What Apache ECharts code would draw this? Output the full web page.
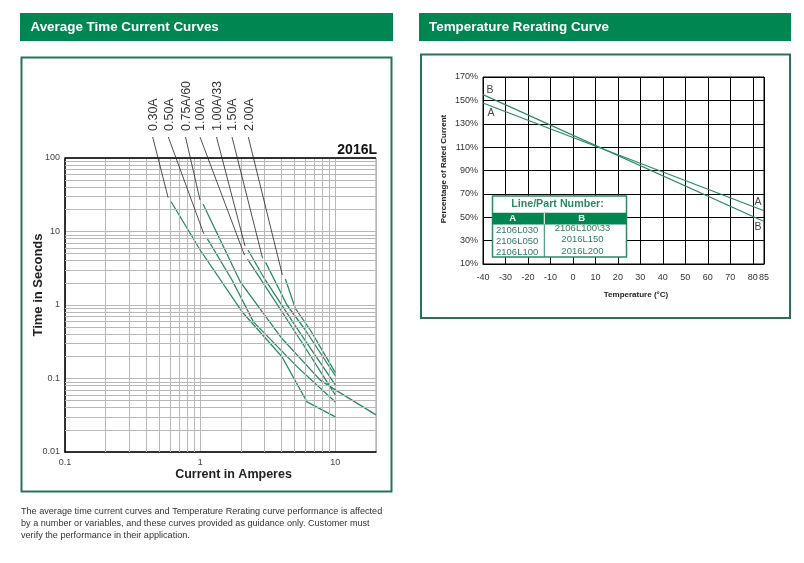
<!DOCTYPE html>
<html>
<head>
<meta charset="utf-8">
<script src="https://cdn.jsdelivr.net/npm/echarts@6/dist/echarts.min.js"></script>
<style>
html, body { margin: 0; padding: 0; background: #fff; }
#main { width: 804px; height: 563px; }
</style>
</head>
<body>
<div id="main"></div>
<script>
// left chart: average time current curves (current A, time s)
var ratingNames = ['0.30A', '0.50A', '0.75A/60', '1.00A', '1.00A/33', '1.50A', '2.00A'];
var curve030 = [[0.61, 25.4], [1.0, 5.6], [2.04, 0.81], [4.03, 0.198], [6.17, 0.048], [10, 0.030]];
var curve050 = [[1.12, 8.2], [1.72, 2.19], [2.48, 0.59], [5.2, 0.145], [10, 0.048]];
var curve075 = [[1.05, 23.7], [1.98, 2.07], [4.03, 0.35], [7.74, 0.095], [10, 0.070], [20, 0.032]];
var curve100 = [[2.24, 4.2], [3.03, 1.81], [5.51, 0.334], [10, 0.060]];
var curve100s33 = [[2.26, 5.6], [3.03, 2.19], [5.51, 0.41], [10, 0.082]];
var curve150 = [[3.05, 3.8], [4.39, 1.0], [6.0, 0.457], [10, 0.109]];
var curve200 = [[4.27, 2.26], [5.06, 0.90], [6.53, 0.457], [10, 0.120]];
var curves = [curve030, curve050, curve075, curve100, curve100s33, curve150, curve200];

// right chart: temperature rerating (deg C, % of rated current)
var lineA = [[-40, 147.8], [85, 55.6]];
var lineB = [[-40, 154.9], [85, 46.4]];
var partA = ['2106L030', '2106L050', '2106L100'];
var partB = ['2106L100\\33', '2016L150', '2016L200'];

var GREEN = '#008751';
var CURVE = '#2b8a63';
var BOX = '#24745a';
var FONT = '"Liberation Sans", Arial, sans-serif';
var NARROW = '"Liberation Sans Narrow", "Liberation Sans", Arial, sans-serif';

// log paper minor lines
var minorX = [], minorY = [];
[0.1, 1].forEach(function (d) {
	for (var k = 2; k <= 9; k++) minorX.push(+(d * k).toFixed(3));
});
[0.01, 0.1, 1, 10].forEach(function (d) {
	for (var k = 2; k <= 9; k++) minorY.push(+(d * k).toFixed(4));
});

function isDecade(v) {
	var l = Math.log(v) / Math.LN10;
	return Math.abs(l - Math.round(l)) < 1e-6;
}
function decadeText(v) {
	var l = Math.round(Math.log(v) / Math.LN10);
	return l >= 0 ? String(Math.pow(10, l)) : '0.' + '0'.repeat(-l - 1) + '1';
}

var chart = echarts.init(document.getElementById('main'));

var series = [];
// grid lines of the log paper
series.push({
	type: 'line', xAxisIndex: 0, yAxisIndex: 0, data: [], silent: true,
	markLine: {
		symbol: ['none', 'none'], silent: true, animation: false,
		label: { show: false },
		lineStyle: { color: '#b8b8b8', width: 1, type: 'solid' },
		data: minorX.map(function (v) { return { xAxis: v }; })
			.concat(minorY.map(function (v) { return { yAxis: v }; }))
	}
});
series.push({
	type: 'line', xAxisIndex: 0, yAxisIndex: 0, data: [], silent: true, z: 4,
	markLine: {
		symbol: ['none', 'none'], silent: true, animation: false,
		label: { show: false },
		lineStyle: { color: '#000', width: 1.5, type: 'solid' },
		data: [{ yAxis: 100 }]
	}
});
curves.forEach(function (c, i) {
	series.push({
		name: ratingNames[i], type: 'line', xAxisIndex: 0, yAxisIndex: 0, z: 3,
		data: c, showSymbol: false, symbol: 'none',
		lineStyle: { color: CURVE, width: 1.3 }
	});
});
series.push({
	name: 'A', type: 'line', xAxisIndex: 1, yAxisIndex: 1, data: lineA,
	symbol: 'none', lineStyle: { color: CURVE, width: 1.2 }
});
series.push({
	name: 'B', type: 'line', xAxisIndex: 1, yAxisIndex: 1, data: lineB,
	symbol: 'none', lineStyle: { color: CURVE, width: 1.2 }
});

chart.setOption({
	animation: false,
	textStyle: { fontFamily: FONT },
	grid: [
		{ left: 65, top: 158, width: 311, height: 294, show: true, borderColor: '#999', borderWidth: 1 },
		{ left: 483, top: 77, width: 281, height: 187, show: true, borderColor: '#000', borderWidth: 1 }
	],
	xAxis: [{
		gridIndex: 0, type: 'log', logBase: 10, min: 0.1, max: 20,
		axisLine: { show: true, lineStyle: { color: '#000', width: 1.5 } },
		axisTick: { show: false },
		splitLine: { show: true, lineStyle: { color: '#b8b8b8' } },
		axisLabel: {
			color: '#444', fontSize: 9, margin: 6,
			formatter: function (v) { return isDecade(v) ? decadeText(v) : ''; }
		}
	}, {
		gridIndex: 1, type: 'value', min: -40, max: 85, interval: 10,
		axisLine: { show: true, lineStyle: { color: '#000', width: 1 } },
		axisTick: { show: false },
		splitLine: { show: true, lineStyle: { color: '#000', width: 1 } },
		axisLabel: { color: '#333', fontSize: 9, margin: 9 }
	}],
	yAxis: [{
		gridIndex: 0, type: 'log', logBase: 10, min: 0.01, max: 100,
		axisLine: { show: true, lineStyle: { color: '#000', width: 1.5 } },
		axisTick: { show: false },
		splitLine: { show: true, lineStyle: { color: '#b8b8b8' } },
		axisLabel: {
			color: '#444', fontSize: 9, margin: 5,
			formatter: function (v) { return decadeText(v); }
		}
	}, {
		gridIndex: 1, type: 'value', min: 10, max: 170, interval: 20,
		axisLine: { show: true, lineStyle: { color: '#000', width: 1 } },
		axisTick: { show: false },
		splitLine: { show: true, lineStyle: { color: '#000', width: 1 } },
		axisLabel: { color: '#333', fontSize: 9, margin: 5, formatter: '{value}%' }
	}],
	series: series
});

// static page parts + annotations placed through the chart scales
var g = [];
function txt(x, y, s, o) {
	var st = {
		text: s, x: 0, y: 0, fill: o.fill || '#333', fontSize: o.size || 9,
		fontWeight: o.bold ? 'bold' : 'normal', fontFamily: o.font || FONT,
		textAlign: o.align || 'left', textVerticalAlign: 'middle'
	};
	g.push({ type: 'text', x: x, y: y, rotation: o.rot || 0, z: o.z || 50, silent: true, style: st });
}

// title bars
g.push({ type: 'rect', shape: { x: 20, y: 13, width: 373, height: 28 }, style: { fill: GREEN }, silent: true });
g.push({ type: 'rect', shape: { x: 419, y: 13, width: 372, height: 28 }, style: { fill: GREEN }, silent: true });
txt(30.5, 27.5, 'Average Time Current Curves', { fill: '#fff', size: 13.4, bold: true });
txt(429, 27.5, 'Temperature Rerating Curve', { fill: '#fff', size: 13.4, bold: true });

// frames
g.push({ type: 'rect', shape: { x: 21.5, y: 57.5, width: 370, height: 434 }, style: { fill: 'none', stroke: BOX, lineWidth: 2 }, silent: true });
g.push({ type: 'rect', shape: { x: 421, y: 54.5, width: 369, height: 263.5 }, style: { fill: 'none', stroke: BOX, lineWidth: 2 }, silent: true });

// footnote
txt(21, 511.5, 'The average time current curves and Temperature Rerating curve performance is affected', { size: 9.1, fill: '#333' });
txt(21, 523.5, 'by a number or variables, and these curves provided as guidance only. Customer must', { size: 9.1, fill: '#333' });
txt(21, 535, 'verify the performance in their application.', { size: 9.1, fill: '#333' });

// left chart texts
txt(377, 150, '2016L', { size: 14, bold: true, fill: '#111', align: 'right' });
txt(38, 285, 'Time in Seconds', { size: 13, bold: true, fill: '#222', align: 'center', rot: Math.PI / 2 });
txt(233.5, 475, 'Current in Amperes', { size: 12.5, bold: true, fill: '#222', align: 'center' });

// rating labels with leader lines to the start of each curve
var labelX = [152.7, 168.3, 185.5, 200, 216.5, 232, 248.3];
curves.forEach(function (c, i) {
	var p = chart.convertToPixel({ gridIndex: 0 }, c[0]);
	txt(labelX[i] + 1, 131, ratingNames[i], { size: 12.5, fill: '#333', rot: Math.PI / 2 });
	g.push({
		type: 'line', silent: true, z: 60,
		shape: { x1: labelX[i], y1: 137, x2: p[0] - 3, y2: p[1] - 4 },
		style: { stroke: '#222', lineWidth: 0.8 }
	});
});

// right chart texts
txt(444, 169, 'Percentage of Rated Current', { size: 8, bold: true, fill: '#222', font: NARROW, align: 'center', rot: Math.PI / 2 });
txt(636, 295, 'Temperature (°C)', { size: 8, bold: true, fill: '#222', font: NARROW, align: 'center' });

var pa0 = chart.convertToPixel({ gridIndex: 1 }, lineA[0]);
var pa1 = chart.convertToPixel({ gridIndex: 1 }, lineA[lineA.length - 1]);
var pb0 = chart.convertToPixel({ gridIndex: 1 }, lineB[0]);
var pb1 = chart.convertToPixel({ gridIndex: 1 }, lineB[lineB.length - 1]);
txt(pb0[0] + 7, pb0[1] - 5, 'B', { size: 10.5, fill: '#444', align: 'center' });
txt(pa0[0] + 8, pa0[1] + 10, 'A', { size: 10.5, fill: '#444', align: 'center' });
txt(pa1[0] - 6, pa1[1] - 9, 'A', { size: 10.5, fill: '#444', align: 'center' });
txt(pb1[0] - 6, pb1[1] + 6, 'B', { size: 10.5, fill: '#444', align: 'center' });

// line / part number table
var tx = 492.5, ty = 196, tw = 134, th = 61;
g.push({ type: 'rect', z: 100, silent: true, shape: { x: tx, y: ty, width: tw, height: th }, style: { fill: '#fff', stroke: CURVE, lineWidth: 1.5 } });
g.push({ type: 'rect', z: 101, silent: true, shape: { x: tx, y: 212.7, width: tw, height: 11.7 }, style: { fill: GREEN } });
g.push({ type: 'line', z: 102, silent: true, shape: { x1: 544.3, y1: 212.7, x2: 544.3, y2: ty + th }, style: { stroke: CURVE, lineWidth: 1 } });
g.push({ type: 'line', z: 103, silent: true, shape: { x1: 544.3, y1: 212.7, x2: 544.3, y2: 224.4 }, style: { stroke: '#fff', lineWidth: 1 } });
txt(557.5, 204.5, 'Line/Part Number:', { size: 10.7, bold: true, fill: CURVE, align: 'center', z: 104 });
txt(512.7, 218.7, 'A', { size: 9.5, bold: true, fill: '#fff', align: 'center', z: 104 });
txt(581.7, 218.7, 'B', { size: 9.5, bold: true, fill: '#fff', align: 'center', z: 104 });
var rowA = [230.3, 241.3, 252.3], rowB = [228.5, 239.8, 251];
partA.forEach(function (s, i) { txt(496, rowA[i], s, { size: 9.5, fill: '#2f7a68', z: 104 }); });
partB.forEach(function (s, i) { txt(582.5, rowB[i], s, { size: 9.5, fill: '#2f7a68', align: 'center', z: 104 }); });

chart.setOption({ graphic: g });
</script>
</body>
</html>
